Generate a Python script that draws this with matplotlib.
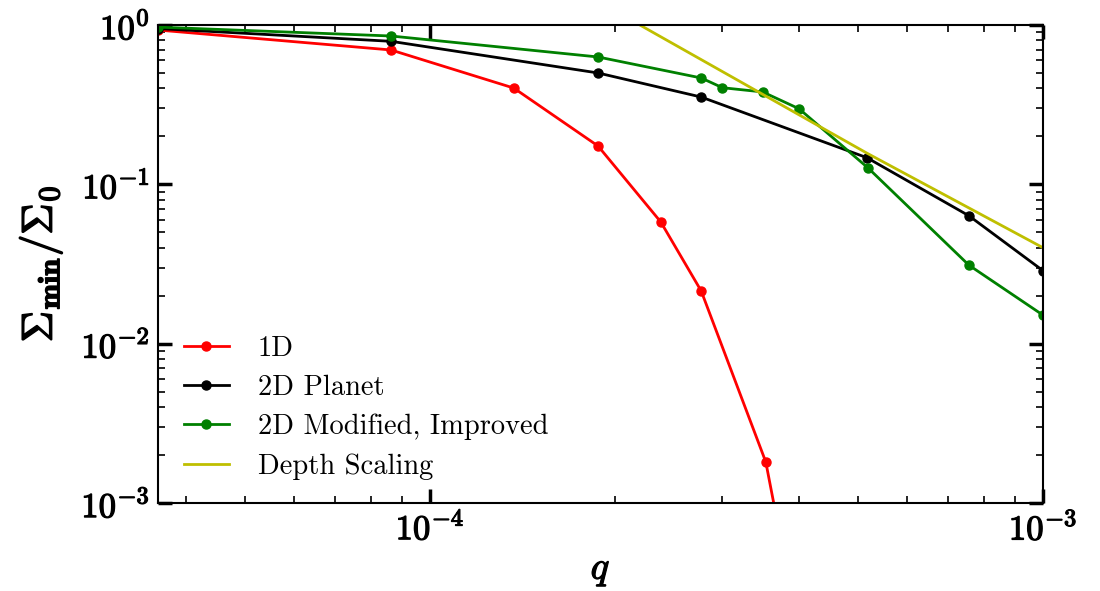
import matplotlib
matplotlib.use("Agg")
import matplotlib.pyplot as plt
import matplotlib.patheffects as pe
from matplotlib.ticker import LogLocator, NullFormatter

plt.rcParams["mathtext.fontset"] = "cm"
plt.rcParams["font.family"] = "cmr10"
plt.rcParams["axes.formatter.use_mathtext"] = True

# values
q_1d = [3.6e-5, 8.64e-5, 1.37e-4, 1.88e-4, 2.38e-4, 2.77e-4, 3.53e-4, 4.0e-4]
sig_1d = [0.93, 0.697, 0.402, 0.174, 0.058, 0.0214, 0.00181, 0.00015]

q_2d = [3.6e-5, 8.64e-5, 1.88e-4, 2.77e-4, 5.16e-4, 7.57e-4, 1.0e-3]
sig_2d = [0.95, 0.79, 0.50, 0.353, 0.147, 0.0635, 0.0287]

q_mod = [3.6e-5, 8.64e-5, 1.88e-4, 2.77e-4, 3.0e-4, 3.49e-4, 4.0e-4, 5.18e-4, 7.57e-4, 1.0e-3]
sig_mod = [0.97, 0.853, 0.63, 0.465, 0.404, 0.38, 0.298, 0.127, 0.0311, 0.0151]

q_depth = [2.2e-4, 5.16e-4, 1.0e-3]
sig_depth = [1.0, 0.157, 0.040]

xticks = [1e-4, 1e-3]
xticklabels = [r"$\mathbf{10^{-4}}$", r"$\mathbf{10^{-3}}$"]
yticks = [1e-3, 1e-2, 1e-1, 1]
yticklabels = [r"$\mathbf{10^{-3}}$", r"$\mathbf{10^{-2}}$",
               r"$\mathbf{10^{-1}}$", r"$\mathbf{10^{0}}$"]

bold = [pe.withStroke(linewidth=0.9, foreground="black")]

fig = plt.figure(figsize=(11, 5.91), dpi=100)
ax = fig.add_axes([0.1436, 0.1489, 0.8046, 0.8088])

ax.plot(q_1d, sig_1d, "-o", color="red", lw=2, ms=6.5, label="1D")
ax.plot(q_2d, sig_2d, "-o", color="black", lw=2, ms=6.5, label="2D Planet")
ax.plot(q_mod, sig_mod, "-o", color="green", lw=2, ms=6.5, label="2D Modified, Improved")
ax.plot(q_depth, sig_depth, "-", color="y", lw=2, label="Depth Scaling")

ax.set_xscale("log")
ax.set_yscale("log")
ax.set_xlim(3.6e-5, 1.0e-3)
ax.set_ylim(1e-3, 1)

ax.xaxis.set_minor_locator(LogLocator(base=10, subs=range(2, 10)))
ax.yaxis.set_minor_locator(LogLocator(base=10, subs=range(2, 10)))
ax.xaxis.set_minor_formatter(NullFormatter())
ax.yaxis.set_minor_formatter(NullFormatter())
ax.set_xticks(xticks)
ax.set_xticklabels(xticklabels)
ax.set_yticks(yticks)
ax.set_yticklabels(yticklabels)

ax.tick_params(which="major", direction="in", length=10, width=2.5,
               top=True, right=True, labelsize=25, pad=6)
ax.tick_params(which="minor", direction="in", length=5, width=1.2,
               top=True, right=True)
for lab in ax.get_xticklabels() + ax.get_yticklabels():
    lab.set_path_effects(bold)
for s in ax.spines.values():
    s.set_linewidth(1.5)

ax.set_xlabel(r"$q$", fontsize=28, labelpad=4, path_effects=bold)
ax.set_ylabel(r"$\mathbf{\Sigma_{min}/\Sigma_0}$", fontsize=31, labelpad=12,
              path_effects=[pe.withStroke(linewidth=1.1, foreground="black")])

ax.legend(loc="lower left", bbox_to_anchor=(0.0, -0.005), frameon=False,
          fontsize=20.5, handlelength=1.6, handletextpad=1.0, labelspacing=0.45)

fig.savefig("out.png", dpi=100)
